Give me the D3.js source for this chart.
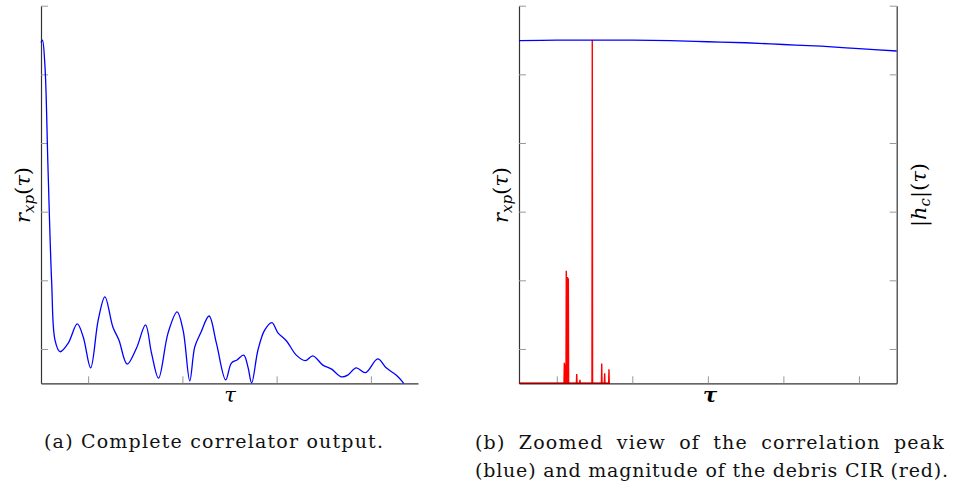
<!DOCTYPE html>
<html>
<head>
<meta charset="utf-8">
<script src="https://cdn.jsdelivr.net/npm/d3@7"></script>
<style>
  body { margin: 0; background: #fff; }
</style>
</head>
<body>
<div id="content"></div>
<script>
// Complete correlator output (panel a), normalised so the peak is 1.
var corrTau = [0.0, 0.03, 0.085, 0.148, 0.227, 0.297, 0.403, 0.578, 0.769, 0.896,
               1.053, 1.214, 1.356, 1.525, 1.653, 1.828, 2.028, 2.218, 2.345, 2.494,
               2.697, 2.888, 3.015, 3.157, 3.263, 3.390, 3.566, 3.722, 3.919, 4.040,
               4.159, 4.301, 4.392, 4.470, 4.604, 4.746, 4.900, 5.028, 5.206, 5.417,
               5.608, 5.769, 5.981, 6.159, 6.371, 6.511, 6.689, 6.886, 7.146, 7.324,
               7.536, 7.697];
var corrValue = [0.993, 1.0, 0.921, 0.630, 0.292, 0.126, 0.092, 0.117, 0.173, 0.135,
                 0.045, 0.184, 0.252, 0.164, 0.126, 0.056, 0.103, 0.170, 0.088, 0.015,
                 0.147, 0.208, 0.155, 0.007, 0.106, 0.147, 0.196, 0.117, 0.010, 0.059,
                 0.068, 0.082, 0.047, 0.001, 0.097, 0.155, 0.177, 0.147, 0.124, 0.082,
                 0.066, 0.080, 0.053, 0.042, 0.019, 0.024, 0.045, 0.031, 0.071, 0.045,
                 0.024, 0.0];

// Zoomed correlation peak (panel b).
var peakTau = [0, 0.5, 1, 1.5, 2, 2.5, 3, 3.5, 4, 4.5, 5];
var peakValue = [0.998, 0.9995, 1.0, 0.9995, 0.998, 0.995, 0.992, 0.987, 0.982, 0.975, 0.968];

// Debris CIR magnitude (panel b), stems.
var cirTau = [0.600, 0.613, 0.626, 0.640, 0.653, 0.764, 0.807, 0.970, 1.095, 1.134, 1.191];
var cirValue = [0.060, 0.055, 0.328, 0.310, 0.306, 0.027, 0.010, 1.0, 0.058, 0.029, 0.041];

// Axis ticks (no labels in the figure).
var yTicks = [0.1, 0.3, 0.5, 0.7, 0.9, 1.1];
var xTicksA = [1, 3, 5, 7];
var xTicksB = [0.5, 1.5, 2.5, 3.5, 4.5];

var W = 955, H = 488;
var plotTop = 5.7, plotBottom = 383.3;
var serif = '"DejaVu Serif", "Liberation Serif", serif';

var svg = d3.select('#content')
              .append('svg')
              .attr('width', W)
              .attr('height', H);

var scaleY = d3.scaleLinear().domain([0, 1.1]).range([plotBottom, plotTop]);
var scaleXA = d3.scaleLinear().domain([0, 8]).range([41, 418]);
var scaleXB = d3.scaleLinear().domain([0, 5]).range([519, 896.7]);

function styleAxis(sel) {
  sel.select('.domain').attr('stroke', '#333').attr('stroke-width', 1.2);
  sel.selectAll('.tick line').attr('stroke', '#999').attr('stroke-width', 1);
}

// Panel (a) axes.
svg.append('g')
    .attr('transform', 'translate(' + 0 + ',' + plotBottom + ')')
    .call(d3.axisBottom(scaleXA).tickValues(xTicksA).tickSize(-7)
              .tickSizeOuter(0).tickFormat(''))
    .call(styleAxis);
svg.append('g')
    .attr('transform', 'translate(' + scaleXA.range()[0] + ',0)')
    .call(d3.axisLeft(scaleY).tickValues(yTicks).tickSize(-7)
              .tickSizeOuter(0).tickFormat(''))
    .call(styleAxis);

// Panel (a) curve.
var corrData = corrTau.map(function(t, i) { return {x : t, y : corrValue[i]}; });
svg.append('path')
    .datum(corrData)
    .attr('fill', 'none')
    .attr('stroke', '#0000ff')
    .attr('stroke-width', 1.3)
    .attr('d', d3.line()
                   .curve(d3.curveCatmullRom.alpha(0.5))
                   .x(function(d) { return scaleXA(d.x); })
                   .y(function(d) { return scaleY(d.y); }));

// Panel (b) axes.
svg.append('g')
    .attr('transform', 'translate(' + 0 + ',' + plotBottom + ')')
    .call(d3.axisBottom(scaleXB).tickValues(xTicksB).tickSize(-7)
              .tickSizeOuter(0).tickFormat(''))
    .call(styleAxis);
svg.append('g')
    .attr('transform', 'translate(' + scaleXB.range()[0] + ',0)')
    .call(d3.axisLeft(scaleY).tickValues(yTicks).tickSize(-7)
              .tickSizeOuter(0).tickFormat(''))
    .call(styleAxis);
svg.append('g')
    .attr('transform', 'translate(' + scaleXB.range()[1] + ',0)')
    .call(d3.axisRight(scaleY).tickValues(yTicks).tickSize(-7)
              .tickSizeOuter(0).tickFormat(''))
    .call(styleAxis);

// Panel (b) red CIR stems, drawn as a line plot on the zero baseline.
var cirData = [{x : 0, y : 0}];
cirTau.forEach(function(t, i) {
  cirData.push({x : t - 0.004, y : 0});
  cirData.push({x : t, y : cirValue[i]});
  cirData.push({x : t + 0.004, y : 0});
});
cirData.push({x : cirTau[cirTau.length - 1] + 0.01, y : 0});

svg.append('path')
    .datum(cirData)
    .attr('fill', 'none')
    .attr('stroke', '#ff0000')
    .attr('stroke-width', 1.4)
    .attr('d', d3.line()
                   .x(function(d) { return scaleXB(d.x); })
                   .y(function(d) { return scaleY(d.y); }));

// Dark red baseline where the CIR lies on the axis.
svg.append('line')
    .attr('x1', scaleXB(0)).attr('x2', scaleXB(cirTau[cirTau.length - 1] + 0.01))
    .attr('y1', scaleY(0)).attr('y2', scaleY(0))
    .attr('stroke', '#8b0000').attr('stroke-width', 1.2);

// Panel (b) blue peak.
var peakData = peakTau.map(function(t, i) { return {x : t, y : peakValue[i]}; });
svg.append('path')
    .datum(peakData)
    .attr('fill', 'none')
    .attr('stroke', '#0000ff')
    .attr('stroke-width', 1.3)
    .attr('d', d3.line()
                   .curve(d3.curveCatmullRom)
                   .x(function(d) { return scaleXB(d.x); })
                   .y(function(d) { return scaleY(d.y); }));

// Axis labels.
function yLabel(x, y, parts) {
  var t = svg.append('text')
      .attr('font-family', serif)
      .attr('font-style', 'italic')
      .attr('transform', 'translate(' + x + ',' + y + ') rotate(-90)')
      .attr('text-anchor', 'middle')
      .attr('font-size', 21);
  parts.forEach(function(p) {
    var s = t.append('tspan').text(p.text);
    if (p.sub) s.attr('font-size', 15).attr('dy', 4);
    if (p.up) s.attr('dy', -4);
    if (p.roman) s.attr('font-style', 'normal');
  });
}
var rxp = [{text : 'r'}, {text : 'xp', sub : true}, {text : '(', up : true, roman : true},
           {text : 'τ'}, {text : ')', roman : true}];
yLabel(30, 195, rxp);
yLabel(508, 195, rxp);
yLabel(926, 195, [{text : '|', roman : true}, {text : 'h'}, {text : 'c', sub : true},
                  {text : '|(', up : true, roman : true}, {text : 'τ'},
                  {text : ')', roman : true}]);

svg.append('text').attr('font-family', serif).attr('font-style', 'italic')
    .attr('font-size', 21)
    .attr('text-anchor', 'middle').attr('x', 230).attr('y', 402).text('τ');
svg.append('text').attr('font-family', serif).attr('font-style', 'italic')
    .attr('font-size', 21).attr('font-weight', 'bold')
    .attr('text-anchor', 'middle').attr('x', 710).attr('y', 402).text('τ');

// Captions: letter spacing taken from caption (a), justified with word spacing.
function captionText(x, y, str) {
  return svg.append('text')
      .attr('font-family', serif).attr('font-size', 19).attr('fill', '#111')
      .attr('x', x).attr('y', y).text(str);
}
var capA = captionText(44, 448, '(a) Complete correlator output.');
var capAText = capA.text();
var letterSp = (339 - capA.node().getComputedTextLength()) / (capAText.length - 1);
capA.attr('letter-spacing', letterSp);

function caption(x, y, str, width) {
  var t = captionText(x, y, str);
  var plain = t.node().getComputedTextLength();
  var ls = Math.min(letterSp, (width - plain) / (str.length - 1));
  t.attr('letter-spacing', ls);
  var natural = t.node().getComputedTextLength();
  var spaces = str.split(' ').length - 1;
  t.attr('word-spacing', Math.max(0, (width - natural) / spaces));
}
caption(475, 449, '(b) Zoomed view of the correlation peak', 470);
caption(475, 477, '(blue) and magnitude of the debris CIR (red).', 473);
</script>
</body>
</html>
